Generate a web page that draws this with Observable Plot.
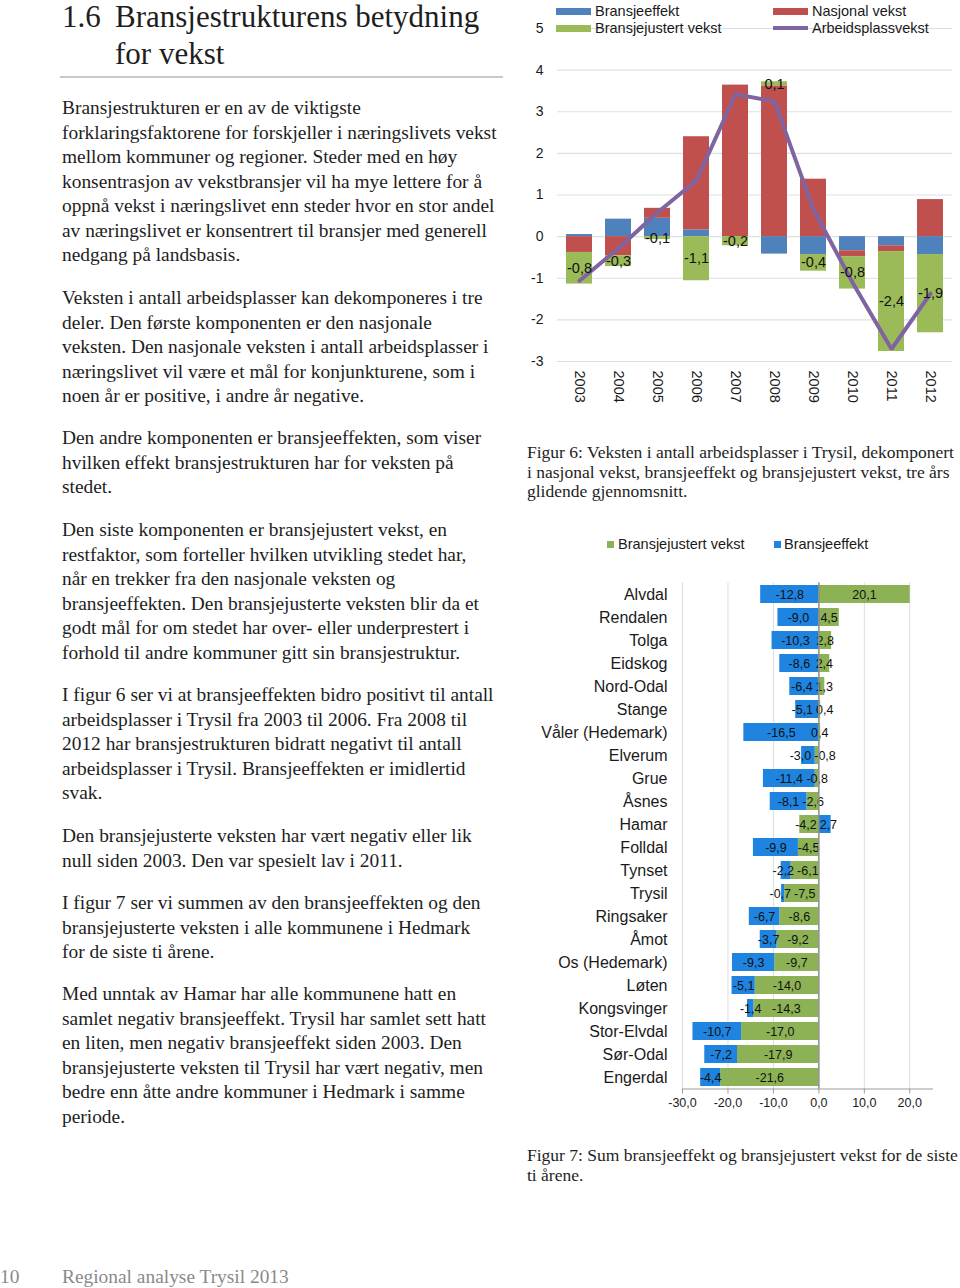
<!DOCTYPE html>
<html><head><meta charset="utf-8">
<script src="https://cdn.jsdelivr.net/npm/d3@7"></script>
<script src="https://cdn.jsdelivr.net/npm/@observablehq/plot@0.6"></script>
<style>
html,body{margin:0;padding:0;background:#fff;}
body{width:960px;height:1288px;position:relative;overflow:hidden;}
.serif{font-family:"Liberation Serif","Times New Roman",serif;color:#1e1e1e;}
.sans{font-family:"Liberation Sans",Arial,sans-serif;color:#1a1a1a;}
.abs{position:absolute;white-space:nowrap;}
.para{left:62px;font-size:19.4px;line-height:24.5px;}
.cap{left:527px;font-size:17.5px;line-height:19.5px;}
.leg{font-size:14.5px;line-height:16px;}
</style></head><body>
<div id="root"></div>
<script>
// ---------- Figure 6 data ----------
const years = ["2003","2004","2005","2006","2007","2008","2009","2010","2011","2012"];
const bransjeeffekt = [0.05, 0.42, 0.44, 0.16, 0.00, -0.42, -0.43, -0.34, -0.22, -0.43];
const nasjonalVekst = [-0.38, -0.46, 0.24, 2.24, 3.64, 3.62, 1.38, -0.14, -0.14, 0.89];
const bransjejustertVekst = [-0.76, -0.26, -0.07, -1.06, -0.22, 0.10, -0.40, -0.78, -2.40, -1.88];
const arbeidsplassvekst = [-1.06, -0.28, 0.58, 1.35, 3.42, 3.25, 0.65, -1.10, -2.70, -1.37];
const yTicks1 = [-3, -2, -1, 0, 1, 2, 3, 4, 5];
const series1 = ["Bransjeeffekt", "Nasjonal vekst", "Bransjejustert vekst"];
const colors1 = ["#4f81bd", "#c0504d", "#9bbb59"];
const lineColor = "#8064a2";

// ---------- Figure 7 data ----------
const kommuner = ["Alvdal","Rendalen","Tolga","Eidskog","Nord-Odal","Stange","Våler (Hedemark)","Elverum","Grue","Åsnes","Hamar","Folldal","Tynset","Trysil","Ringsaker","Åmot","Os (Hedemark)","Løten","Kongsvinger","Stor-Elvdal","Sør-Odal","Engerdal"];
const bransjeeffekt7 = [-12.8, -9.0, -10.3, -8.6, -6.4, -5.1, -16.5, -3.0, -11.4, -8.1, 2.7, -9.9, -2.2, -0.7, -6.7, -3.7, -9.3, -5.1, -1.4, -10.7, -7.2, -4.4];
const bransjejustert7 = [20.1, 4.5, 2.8, 2.4, 1.3, 0.4, 0.4, -0.8, -0.8, -2.6, -4.2, -4.5, -6.1, -7.5, -8.6, -9.2, -9.7, -14.0, -14.3, -17.0, -17.9, -21.6];
const xTicks7 = [-30, -20, -10, 0, 10, 20];
const series7 = ["Bransjejustert vekst", "Bransjeeffekt"];
const colors7 = ["#8db255", "#1e84e0"];

const fmt = v => v.toFixed(1).replace(".", ",");

const root = document.getElementById("root");
function add(html) { root.insertAdjacentHTML("beforeend", html); }

// ---------- Left column text ----------
add(`<div class="abs serif" style="left:62px;top:-2px;font-size:31px;line-height:37px;">1.6</div>`);
add(`<div class="abs serif" style="left:115px;top:-2px;font-size:31px;line-height:37px;">Bransjestrukturens betydning<br>for vekst</div>`);
add(`<div class="abs" style="left:60px;top:76px;width:443px;height:2px;background:#c9c9c9;"></div>`);

const paragraphs = [
  {c:107, lines:["Bransjestrukturen er en av de viktigste","forklaringsfaktorene for forskjeller i næringslivets vekst","mellom kommuner og regioner. Steder med en høy","konsentrasjon av vekstbransjer vil ha mye lettere for å","oppnå vekst i næringslivet enn steder hvor en stor andel","av næringslivet er konsentrert til bransjer med generell","nedgang på landsbasis."]},
  {c:297, lines:["Veksten i antall arbeidsplasser kan dekomponeres i tre","deler. Den første komponenten er den nasjonale","veksten. Den nasjonale veksten i antall arbeidsplasser i","næringslivet vil være et mål for konjunkturene, som i","noen år er positive, i andre år negative."]},
  {c:437, lines:["Den andre komponenten er bransjeeffekten, som viser","hvilken effekt bransjestrukturen har for veksten på","stedet."]},
  {c:529, lines:["Den siste komponenten er bransjejustert vekst, en","restfaktor, som forteller hvilken utvikling stedet har,","når en trekker fra den nasjonale veksten og","bransjeeffekten. Den bransjejusterte veksten blir da et","godt mål for om stedet har over- eller underprestert i","forhold til andre kommuner gitt sin bransjestruktur."]},
  {c:694, lines:["I figur 6 ser vi at bransjeeffekten bidro positivt til antall","arbeidsplasser i Trysil fra 2003 til 2006. Fra 2008 til","2012 har bransjestrukturen bidratt negativt til antall","arbeidsplasser i Trysil. Bransjeeffekten er imidlertid","svak."]},
  {c:835, lines:["Den bransjejusterte veksten har vært negativ eller lik","null siden 2003. Den var spesielt lav i 2011."]},
  {c:902, lines:["I figur 7 ser vi summen av den bransjeeffekten og den","bransjejusterte veksten i alle kommunene i Hedmark","for de siste ti årene."]},
  {c:993, lines:["Med unntak av Hamar har alle kommunene hatt en","samlet negativ bransjeeffekt. Trysil har samlet sett hatt","en liten, men negativ bransjeeffekt siden 2003. Den","bransjejusterte veksten til Trysil har vært negativ, men","bedre enn åtte andre kommuner i Hedmark i samme","periode."]}
];
for (const p of paragraphs) {
  add(`<div class="abs serif para" style="top:${p.c - 11}px;">${p.lines.join("<br>")}</div>`);
}

// Captions
add(`<div class="abs serif cap" style="top:443px;">Figur 6: Veksten i antall arbeidsplasser i Trysil, dekomponert<br>i nasjonal vekst, bransjeeffekt og bransjejustert vekst, tre års<br>glidende gjennomsnitt.</div>`);
add(`<div class="abs serif cap" style="top:1146px;">Figur 7: Sum bransjeeffekt og bransjejustert vekst for de siste<br>ti årene.</div>`);

// Footer
add(`<div class="abs serif" style="left:0px;top:1265px;font-size:19.4px;line-height:24.5px;color:#8a8a8a;">10</div>`);
add(`<div class="abs serif" style="left:62px;top:1265px;font-size:19.4px;line-height:24.5px;color:#8a8a8a;">Regional analyse Trysil 2013</div>`);

// ---------- Figure 6 chart ----------
const rows1 = years.flatMap((y, i) => [
  {year: y, series: series1[0], value: bransjeeffekt[i]},
  {year: y, series: series1[1], value: nasjonalVekst[i]},
  {year: y, series: series1[2], value: bransjejustertVekst[i]}
]);
const lineRows = years.map((y, i) => ({year: y, value: arbeidsplassvekst[i]}));

const chart1 = Plot.plot({
  width: 435, height: 410,
  marginLeft: 32, marginRight: 8, marginTop: 28, marginBottom: 49,
  style: {fontFamily: "Liberation Sans, Arial, sans-serif", fontSize: "14px", color: "#1a1a1a", background: "transparent", overflow: "visible"},
  x: {domain: years, paddingInner: 0.34, paddingOuter: 0.17, label: null},
  y: {domain: [-3, 5], label: null},
  color: {domain: series1, range: colors1},
  marks: [
    Plot.ruleY(yTicks1, {stroke: "#dbe0e6", strokeWidth: 1.2}),
    Plot.barY(rows1, Plot.stackY({x: "year", y: "value", z: "series", fill: "series", order: null})),
    Plot.line(lineRows, {x: "year", y: "value", stroke: lineColor, strokeWidth: 4, strokeLinejoin: "miter"}),
    Plot.text(rows1, Plot.stackY({x: "year", y: "value", z: "series", order: null,
      text: d => d.series === series1[2] ? fmt(d.value) : null, fontSize: 14.5, fill: "#111"})),
    Plot.axisY({ticks: yTicks1, tickSize: 0, tickPadding: 14, tickFormat: d => String(d), fontSize: 14, label: null}),
    Plot.axisX({tickSize: 0, tickRotate: 90, tickPadding: 9, fontSize: 14.5, label: null})
  ]
});
const c1 = document.createElement("div");
c1.style.cssText = "position:absolute;left:525px;top:0px;";
c1.appendChild(chart1);
root.appendChild(c1);

// Legend figure 6
add(`<div class="abs" style="left:556px;top:8px;width:35px;height:7px;background:${colors1[0]}"></div>`);
add(`<div class="abs sans leg" style="left:595px;top:3px;">Bransjeeffekt</div>`);
add(`<div class="abs" style="left:773px;top:8px;width:35px;height:7px;background:${colors1[1]}"></div>`);
add(`<div class="abs sans leg" style="left:812px;top:3px;">Nasjonal vekst</div>`);
add(`<div class="abs" style="left:556px;top:25px;width:35px;height:7px;background:${colors1[2]}"></div>`);
add(`<div class="abs sans leg" style="left:595px;top:20px;">Bransjejustert vekst</div>`);
add(`<div class="abs" style="left:773px;top:26px;width:35px;height:4px;background:${lineColor}"></div>`);
add(`<div class="abs sans leg" style="left:812px;top:20px;">Arbeidsplassvekst</div>`);

// ---------- Figure 7 chart ----------
const rows7 = kommuner.flatMap((k, i) => [
  {kommune: k, series: series7[0], value: bransjejustert7[i]},
  {kommune: k, series: series7[1], value: bransjeeffekt7[i]}
]);

function chart7(labelMarks) {
  return Plot.plot({
    width: 430, height: 555,
    marginLeft: 152, marginRight: 28, marginTop: 22.5, marginBottom: 26.5,
    style: {fontFamily: "Liberation Sans, Arial, sans-serif", fontSize: "12.5px", color: "#1a1a1a", background: "transparent", overflow: "visible"},
    x: {domain: [-30, 25], label: null},
    y: {domain: kommuner, paddingInner: 0.22, paddingOuter: 0.11, label: null},
    color: {domain: series7, range: colors7},
    marks: [
      Plot.ruleX(xTicks7.filter(d => d !== 0), {stroke: "#dcdcdc", strokeWidth: 1}),
      Plot.barX(rows7, Plot.stackX({y: "kommune", x: "value", z: "series", fill: "series", order: null})),
      ...labelMarks,
      Plot.ruleX([0], {stroke: "#8c8c8c", strokeWidth: 1.5}),
      Plot.frame({anchor: "bottom", stroke: "#9a9a9a"}),
      Plot.axisX({ticks: xTicks7, tickFormat: fmt, tickSize: 5, tickPadding: 4, fontSize: 12.5, stroke: "#9a9a9a", label: null}),
      Plot.axisY({tickSize: 0, tickPadding: 15, fontSize: 16, label: null})
    ]
  });
}

// first pass: read the x scale to know pixels per unit, so labels of tiny segments can be nudged apart
const probe = chart7([]);
const sx = probe.scale("x");
const pxPerUnit = Math.abs((sx.range[1] - sx.range[0]) / (sx.domain[1] - sx.domain[0]));
const charW = ch => ch === "," ? 0.278 : ch === "-" ? 0.333 : 0.556;
const labelW = s => [...s].reduce((a, ch) => a + charW(ch), 0) * 12.5;

const labels7 = [];
kommuner.forEach((k, i) => {
  const g = bransjejustert7[i], b = bransjeeffekt7[i];
  const gMid = g / 2;
  const bStart = Math.sign(b) === Math.sign(g) ? g : 0;
  const bMid = bStart + b / 2;
  const tg = fmt(g), tb = fmt(b);
  let pg = gMid * pxPerUnit, pb = bMid * pxPerUnit;
  const need = (labelW(tg) + labelW(tb)) / 2 + 3;
  const gap = Math.abs(pg - pb);
  if (gap < need) {
    const d = (need - gap) / 2;
    if (pg >= pb) { pg += d; pb -= d; } else { pg -= d; pb += d; }
  }
  labels7.push({kommune: k, pos: pg / pxPerUnit, text: tg});
  labels7.push({kommune: k, pos: pb / pxPerUnit, text: tb});
});

const chart2 = chart7([Plot.text(labels7, {y: "kommune", x: "pos", text: "text", fontSize: 12.5, fill: "#111"})]);
const c2 = document.createElement("div");
c2.style.cssText = "position:absolute;left:530px;top:560px;";
c2.appendChild(chart2);
root.appendChild(c2);

// Legend figure 7
add(`<div class="abs" style="left:607px;top:541px;width:7px;height:7px;background:${colors7[0]}"></div>`);
add(`<div class="abs sans leg" style="left:618px;top:536px;">Bransjejustert vekst</div>`);
add(`<div class="abs" style="left:774px;top:541px;width:7px;height:7px;background:${colors7[1]}"></div>`);
add(`<div class="abs sans leg" style="left:784px;top:536px;">Bransjeeffekt</div>`);
</script>
</body></html>
